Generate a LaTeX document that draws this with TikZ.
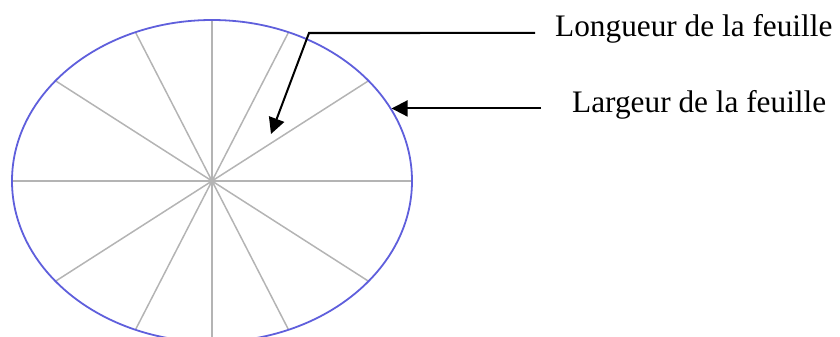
\documentclass[tikz,border=0pt]{standalone}
\usepackage{fontspec}
\setmainfont{Liberation Serif}
\usetikzlibrary{positioning, arrows.meta, shapes.geometric}
\definecolor{bleufeuille}{RGB}{95,95,220}
\definecolor{grisrayon}{RGB}{180,180,180}

\begin{document}
\begin{tikzpicture}[x=1bp, y=1bp,
    etiquette/.style={inner sep=0pt, font=\fontsize{31.3bp}{36bp}\selectfont},
    fleche/.style={line width=2bp, -{Triangle[length=16bp,width=16bp]}},
    rayon/.style={grisrayon, line width=1.5bp}]
    \clip (0,0) rectangle (840,336); % cadre
    \coordinate (centre) at (212,155);
    % rayons de la feuille
    \foreach \t in {38.5,67.5,90,112.5,141.5,218.5,247.5,270,292.5,321.5}
        \draw[rayon] (centre) -- ({212+200*cos(\t)},{155+161*sin(\t)});
    \draw[rayon, line width=2.2bp] (12,155) -- (412,155);
    \draw[grisrayon, line width=1.2bp] (centre) circle (3);
    % contour de la feuille
    \node[draw=bleufeuille, line width=1.8bp, ellipse, inner sep=0pt,
          minimum width=400bp, minimum height=322bp] (feuille) at (centre) {};
    % legendes
    \node[etiquette, anchor=base west] (longueur) at (555,300) {Longueur de la feuille};
    \node[etiquette, anchor=base west] (largeur) at (572,224) {Largeur de la feuille};
    \coordinate (coudeL) at (309,303);
    \coordinate (pointL) at (271,202);
    \draw[fleche] ([xshift=-20bp,yshift=3bp]longueur.base west) -- (coudeL) -- (pointL);
    \draw[fleche] ([xshift=-31bp]largeur.base west |- feuille.22.7) -- (feuille.22.7);
\end{tikzpicture}
\end{document}
